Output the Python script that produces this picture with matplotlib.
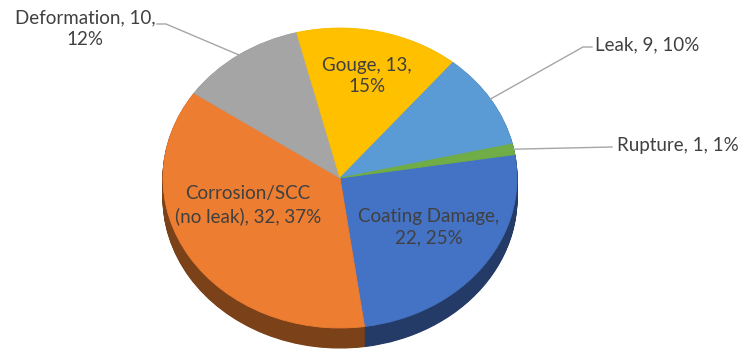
import numpy as np
import matplotlib.pyplot as plt
from matplotlib.colors import to_rgb

plt.rcParams['font.family'] = ['Lato', 'DejaVu Sans']

# failure causes, counts and the percentages shown on the labels
categories = ['Coating Damage', 'Corrosion/SCC\n(no leak)', 'Deformation', 'Gouge', 'Leak', 'Rupture']
counts = [22, 32, 10, 13, 9, 1]
percents = [25, 37, 12, 15, 10, 1]
colors = ['#4472C4', '#ED7D31', '#A5A5A5', '#FFC000', '#5B9BD5', '#70AD47']

W, H = 739, 349
cx, cy = 340, 178        # pie centre in pixels
rx, ry = 177, 150        # half width / half height of the top face
depth = 20               # thickness of the disc in pixels


def px(x, y):
    # pixel position -> data coordinates
    return (x - cx) / rx, (cy - y) / ry


fig = plt.figure(figsize=(W / 100, H / 100), dpi=100)
ax = fig.add_axes([0, 0, 1, 1])

# side of the disc: a stack of darker pies pushed downwards
dark = [tuple(c * 0.52 for c in to_rgb(col)) for col in colors]
n_layers = 30
for k in range(n_layers, 0, -1):
    off = depth / ry * k / n_layers
    ws, _ = ax.pie(counts, colors=dark, startangle=9, counterclock=False,
                   center=(0, -off), radius=1)
    for w in ws:
        w.set_edgecolor(w.get_facecolor())
        w.set_linewidth(0.8)

# top face
wedges, _ = ax.pie(counts, colors=colors, startangle=9, counterclock=False,
                   center=(0, 0), radius=1)
for w in wedges:
    w.set_edgecolor(w.get_facecolor())
    w.set_linewidth(0.6)

ax.set_aspect('auto')
ax.set_xlim((0 - cx) / rx, (W - cx) / rx)
ax.set_ylim((cy - H) / ry, cy / ry)
ax.axis('off')

templates = ['{n},\n{c}, {p}%', '{n}, {c}, {p}%', '{n}, {c},\n{p}%',
             '{n}, {c},\n{p}%', '{n}, {c}, {p}%', '{n}, {c}, {p}%']
labels = [t.format(n=n, c=c, p=p) for t, n, c, p in zip(templates, categories, counts, percents)]

txt_color = '#404040'
line_color = '#A6A6A6'
fs = 13.5
ls = 1.35

# labels drawn on the slices
inside = {0: (429, 227), 1: (248, 205), 3: (367, 76)}
for i, (x, y) in inside.items():
    ax.text(*px(x, y), labels[i], ha='center', va='center', fontsize=fs,
            color=txt_color, linespacing=ls)


def mid_point(w):
    a = np.deg2rad((w.theta1 + w.theta2) / 2)
    return np.cos(a), np.sin(a)


# labels outside with leader lines
# Deformation
mx, my = mid_point(wedges[2])
ex, ey = px(166, 24)
sx, sy = px(157, 24)
ax.plot([mx, ex, sx], [my, ey, sy], color=line_color, lw=1)
ax.text(*px(85, 29), labels[2], ha='center', va='center', fontsize=fs,
        color=txt_color, linespacing=ls)

# Leak
mx, my = mid_point(wedges[4])
ex, ey = px(583, 47)
sx, sy = px(592, 47)
ax.plot([mx, ex, sx], [my, ey, sy], color=line_color, lw=1)
ax.text(*px(595, 45), labels[4], ha='left', va='center', fontsize=fs, color=txt_color)

# Rupture
mx, my = mid_point(wedges[5])
sx, sy = px(612, 147)
ax.plot([mx, sx], [my, sy], color=line_color, lw=1)
ax.text(*px(617, 145), labels[5], ha='left', va='center', fontsize=fs, color=txt_color)

fig.savefig('out.png', dpi=100)
